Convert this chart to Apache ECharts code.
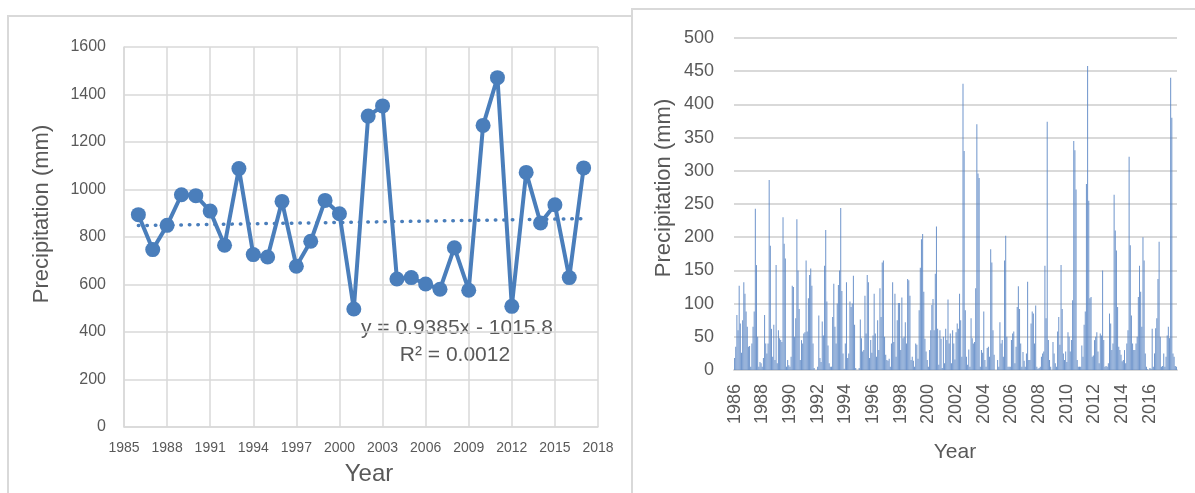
<!DOCTYPE html>
<html>
<head>
<meta charset="utf-8">
<script src="https://cdn.jsdelivr.net/npm/echarts@6/dist/echarts.min.js"></script>
<style>
html,body{margin:0;padding:0;background:#fff;}
#c{width:1195px;height:493px;}
</style>
</head>
<body>
<div id="c"></div>
<script>
// ---- Data ----
const years = [1986,1987,1988,1989,1990,1991,1992,1993,1994,1995,1996,1997,1998,1999,2000,2001,2002,2003,2004,2005,2006,2007,2008,2009,2010,2011,2012,2013,2014,2015,2016,2017];
const annualPrecip = [894,747,849,978,974,909,765,1088,726,716,950,677,782,954,898,497,1309,1352,623,629,602,580,755,576,1270,1471,508,1072,859,936,629,1091];
const trendYears = [1986, 2017];
const trendValues = [848.1, 877.2];
const trendLabels = ['y = 0.9385x - 1015.8', 'R\u00B2 = 0.0012'];
const leftXTickBase = 1985;
const monthNames = ['01','02','03','04','05','06','07','08','09','10','11','12'];
const monthlyPrecip = [
  [18,35,83,60,127,70,26,75,132,115,88,65],
  [35,36,5,40,65,88,243,158,50,5,12,10],
  [5,18,83,40,25,40,286,187,62,20,68,15],
  [158,10,60,48,45,42,230,190,168,5,15,7],
  [5,20,127,125,50,78,227,150,92,15,45,40],
  [55,57,165,58,108,143,153,127,40,3,0,0],
  [5,82,18,12,73,52,157,211,103,37,10,5],
  [5,80,130,65,40,100,128,150,244,119,25,2],
  [40,132,18,25,103,95,100,142,68,3,0,0],
  [3,76,48,28,30,112,55,143,132,18,45,26],
  [52,115,55,20,75,30,123,80,162,165,50,23],
  [15,14,17,5,40,132,42,115,20,75,101,101],
  [30,109,48,50,72,40,137,135,112,15,20,14],
  [5,40,38,17,90,154,197,205,118,47,28,15],
  [5,30,60,98,107,60,145,216,62,8,60,47],
  [3,50,10,62,45,106,40,55,10,60,40,16],
  [57,70,62,115,75,20,431,330,90,20,8,31],
  [5,78,48,40,42,123,370,296,289,5,30,26],
  [88,15,5,33,35,20,182,162,60,23,0,0],
  [15,5,72,40,45,20,165,202,50,5,5,5],
  [45,55,58,10,35,95,126,92,40,5,27,14],
  [5,25,133,15,15,70,88,85,40,97,5,2],
  [3,5,20,25,28,157,78,374,45,15,5,0],
  [42,25,10,5,58,80,38,158,92,25,15,28],
  [12,57,50,28,45,105,345,331,272,15,5,5],
  [5,37,20,68,88,280,458,255,108,110,20,22],
  [45,50,57,28,10,55,52,150,45,5,6,5],
  [10,85,70,30,40,264,210,180,95,35,30,23],
  [13,15,30,10,40,60,321,188,82,40,30,30],
  [40,50,110,157,118,65,200,165,25,5,1,0],
  [3,2,62,5,25,63,78,137,193,50,5,6],
  [25,5,20,52,65,48,440,380,25,20,6,5]
];

// ---- Build ----
const monthCategories = [];
years.forEach(y => monthNames.forEach(m => monthCategories.push(y + '-' + m)));
const monthlyValues = monthlyPrecip.flat();
const lineData = years.map((y, i) => [y - leftXTickBase, annualPrecip[i]]);
const trendData = trendYears.map((y, i) => [y - leftXTickBase, trendValues[i]]);

const FONT = 'Liberation Sans';
const TXT = '#595959';
const GRID = '#d9d9d9';
const BLUE = '#4a7ebb';

const chart = echarts.init(document.getElementById('c'), null, {renderer: 'canvas'});
chart.setOption({
  animation: false,
  backgroundColor: '#fff',
  textStyle: {fontFamily: FONT},
  graphic: [
    {type: 'rect', shape: {x: 8, y: 16, width: 624, height: 520}, style: {fill: '#fff', stroke: GRID, lineWidth: 2}, z: -10},
    {type: 'rect', shape: {x: 632, y: 9, width: 600, height: 520}, style: {fill: '#fff', stroke: GRID, lineWidth: 2}, z: -9},
    {type: 'text', x: 42, y: 214, rotation: Math.PI / 2, style: {text: 'Precipitation (mm)', font: '22px ' + FONT, fill: TXT, align: 'center', verticalAlign: 'middle'}},
    {type: 'text', x: 369, y: 474, style: {text: 'Year', font: '24px ' + FONT, fill: TXT, align: 'center', verticalAlign: 'middle'}},
    {type: 'text', x: 457, y: 328, style: {text: trendLabels[0], font: '21px ' + FONT, fill: TXT, align: 'center', verticalAlign: 'middle'}},
    {type: 'text', x: 455, y: 355, style: {text: trendLabels[1], font: '21px ' + FONT, fill: TXT, align: 'center', verticalAlign: 'middle'}},
    {type: 'text', x: 664, y: 188, rotation: Math.PI / 2, style: {text: 'Precipitation (mm)', font: '22px ' + FONT, fill: TXT, align: 'center', verticalAlign: 'middle'}},
    {type: 'text', x: 955, y: 452, style: {text: 'Year', font: '21px ' + FONT, fill: TXT, align: 'center', verticalAlign: 'middle'}}
  ],
  grid: [
    {left: 124, right: 597, top: 47, bottom: 66},
    {left: 734, right: 18, top: 38, bottom: 123}
  ],
  xAxis: [
    {
      type: 'value', gridIndex: 0, min: 0, max: 33, interval: 3,
      axisLine: {show: true, lineStyle: {color: GRID, width: 1.5}},
      axisTick: {show: false},
      splitLine: {show: true, lineStyle: {color: GRID, width: 1.5}},
      axisLabel: {color: TXT, fontSize: 14, margin: 14, formatter: v => String(v + leftXTickBase)}
    },
    {
      type: 'category', gridIndex: 1, data: monthCategories,
      axisLine: {show: true, lineStyle: {color: GRID, width: 2}},
      axisTick: {show: false},
      axisLabel: {color: TXT, fontSize: 18, rotate: 90, interval: 23, margin: 14, formatter: v => v.slice(0, 4)}
    }
  ],
  yAxis: [
    {
      type: 'value', gridIndex: 0, min: 0, max: 1600, interval: 200,
      axisLine: {show: true, lineStyle: {color: GRID, width: 1.5}},
      axisTick: {show: false},
      splitLine: {show: true, lineStyle: {color: GRID, width: 1.5}},
      axisLabel: {color: TXT, fontSize: 16, margin: 18, formatter: v => String(v)}
    },
    {
      type: 'value', gridIndex: 1, min: 0, max: 500, interval: 50,
      axisLine: {show: false},
      axisTick: {show: false},
      splitLine: {show: true, lineStyle: {color: GRID, width: 2}},
      axisLabel: {color: TXT, fontSize: 18, margin: 20, formatter: v => String(v)}
    }
  ],
  series: [
    {
      type: 'line', xAxisIndex: 0, yAxisIndex: 0, data: trendData,
      symbol: 'none', z: 2,
      lineStyle: {color: BLUE, width: 3.5, type: [0.5, 8], cap: 'round'}
    },
    {
      type: 'line', xAxisIndex: 0, yAxisIndex: 0, data: lineData,
      symbol: 'circle', symbolSize: 15, z: 3,
      itemStyle: {color: BLUE},
      lineStyle: {color: BLUE, width: 4}
    },
    {
      type: 'bar', xAxisIndex: 1, yAxisIndex: 1, data: monthlyValues,
      barCategoryGap: '10%',
      itemStyle: {color: '#5a86c4', opacity: 0.85}
    }
  ]
});
</script>
</body>
</html>
